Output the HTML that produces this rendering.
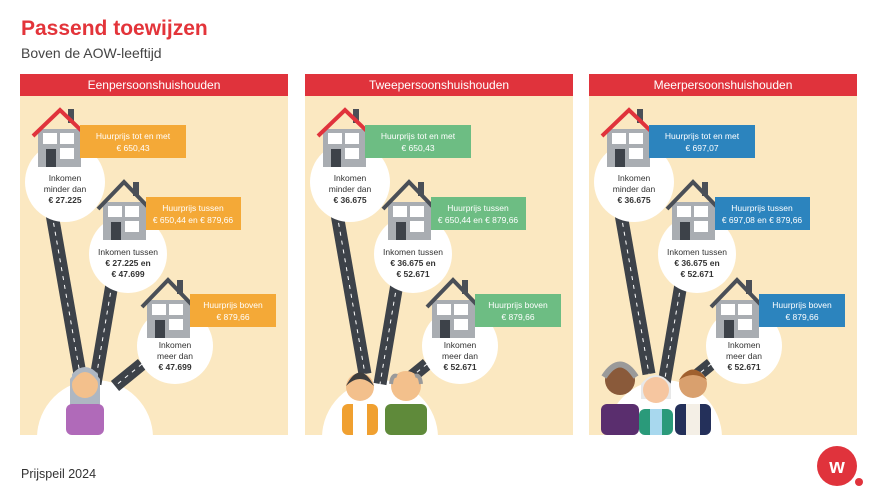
<!DOCTYPE html>
<html><head><meta charset="utf-8"><style>
body{margin:0;background:#fff;width:877px;height:500px;overflow:hidden}
svg{display:block;font-family:"Liberation Sans",sans-serif}
</style></head><body>
<svg width="877" height="500" viewBox="0 0 877 500">
<defs>
<clipPath id="pc"><rect x="0" y="0" width="268" height="361"/></clipPath>
<g id="roads">
 <line x1="32" y1="140" x2="60" y2="300" stroke="#3d4249" stroke-width="13"/>
 <line x1="32" y1="140" x2="60" y2="300" stroke="#fff" stroke-width="1" stroke-dasharray="4 5"/>
 <line x1="92" y1="210" x2="75" y2="310" stroke="#3d4249" stroke-width="13"/>
 <line x1="92" y1="210" x2="75" y2="310" stroke="#fff" stroke-width="1" stroke-dasharray="4 5"/>
 <line x1="122" y1="290" x2="95" y2="312" stroke="#3d4249" stroke-width="13"/>
 <line x1="122" y1="290" x2="95" y2="312" stroke="#fff" stroke-width="1" stroke-dasharray="4 5"/>
</g>
<g id="house">
 <rect x="0" y="0" width="43" height="38" fill="#a9adb2"/>
 <rect x="30" y="-20" width="6" height="14" fill="#4a4f57"/>
 <rect x="5" y="4" width="14" height="11" fill="#fff"/>
 <rect x="22" y="4" width="14" height="11" fill="#fff"/>
 <rect x="22" y="19" width="14" height="11" fill="#fff"/>
 <rect x="8" y="20" width="10" height="18" fill="#3d4249"/>
</g>
<g id="base">
 <rect x="0" y="0" width="268" height="361" fill="#fbe8c1"/>
 <g clip-path="url(#pc)"><circle cx="75" cy="364" r="58" fill="#fff"/></g>
 <use href="#roads"/>
 <circle cx="45" cy="108" r="40" fill="#fff"/>
 <circle cx="108" cy="180" r="39" fill="#fff"/>
 <circle cx="155" cy="272" r="38" fill="#fff"/>
 <use href="#house" x="18" y="55"/>
 <polyline points="13,62 40,36 67,62" fill="none" stroke="#e0333c" stroke-width="4"/>
 <use href="#house" x="83" y="128"/>
 <polyline points="78,135 104,108 130,135" fill="none" stroke="#4a4f57" stroke-width="4"/>
 <use href="#house" x="127" y="226"/>
 <polyline points="122,233 148,206 174,233" fill="none" stroke="#4a4f57" stroke-width="4"/>
 <rect x="0" y="0" width="268" height="22" fill="#e0333c"/>
</g>
</defs>

<text x="21" y="35" font-size="21" fill="#e3343a" font-weight="bold">Passend toewijzen</text>
<text x="21" y="58" font-size="14" fill="#444">Boven de AOW-leeftijd</text>
<text x="21" y="478" font-size="12.5" fill="#333">Prijspeil 2024</text>
<circle cx="837" cy="466" r="20" fill="#e0333c"/>
<circle cx="859" cy="482" r="4" fill="#e0333c"/>
<text x="837" y="473" font-size="20" font-weight="bold" fill="#fff" text-anchor="middle">w</text>

<!-- Panel 1 -->
<g transform="translate(20,74)" font-size="8.5" text-anchor="middle">
 <use href="#base"/>
 <text x="134" y="15" font-size="12" fill="#fff">Eenpersoonshuishouden</text>
 <rect x="60" y="51" width="106" height="33" fill="#f4a937"/>
 <rect x="126" y="123" width="95" height="33" fill="#f4a937"/>
 <rect x="170" y="220" width="86" height="33" fill="#f4a937"/>
 <g fill="#fff"><text x="113" y="65">Huurprijs tot en met</text><text x="113" y="77">€ 650,43</text>
 <text x="173" y="137">Huurprijs tussen</text><text x="173" y="149">€ 650,44 en € 879,66</text>
 <text x="213" y="234">Huurprijs boven</text><text x="213" y="246">€ 879,66</text></g>
 <g fill="#333"><text x="45" y="107">Inkomen</text><text x="45" y="118">minder dan</text><text x="45" y="129" font-weight="bold">€ 27.225</text>
 <text x="108" y="181">Inkomen tussen</text><text x="108" y="192" font-weight="bold">€ 27.225 en</text><text x="108" y="203" font-weight="bold">€ 47.699</text>
 <text x="155" y="274">Inkomen</text><text x="155" y="285">meer dan</text><text x="155" y="296" font-weight="bold">€ 47.699</text></g>
 <path d="M50,343 L50,305 Q65,285 80,305 L80,343 Z" fill="#aeb7c2"/>
 <rect x="46" y="330" width="38" height="31" rx="6" fill="#b06ab9"/>
 <circle cx="65" cy="311" r="13" fill="#f3c08c"/>
 <path d="M52,308 Q65,288 78,308 L78,300 Q65,286 52,300 Z" fill="#aeb7c2"/>
</g>

<!-- Panel 2 -->
<g transform="translate(305,74)" font-size="8.5" text-anchor="middle">
 <use href="#base"/>
 <text x="134" y="15" font-size="12" fill="#fff">Tweepersoonshuishouden</text>
 <rect x="60" y="51" width="106" height="33" fill="#6dbd83"/>
 <rect x="126" y="123" width="95" height="33" fill="#6dbd83"/>
 <rect x="170" y="220" width="86" height="33" fill="#6dbd83"/>
 <g fill="#fff"><text x="113" y="65">Huurprijs tot en met</text><text x="113" y="77">€ 650,43</text>
 <text x="173" y="137">Huurprijs tussen</text><text x="173" y="149">€ 650,44 en € 879,66</text>
 <text x="213" y="234">Huurprijs boven</text><text x="213" y="246">€ 879,66</text></g>
 <g fill="#333"><text x="45" y="107">Inkomen</text><text x="45" y="118">minder dan</text><text x="45" y="129" font-weight="bold">€ 36.675</text>
 <text x="108" y="181">Inkomen tussen</text><text x="108" y="192" font-weight="bold">€ 36.675 en</text><text x="108" y="203" font-weight="bold">€ 52.671</text>
 <text x="155" y="274">Inkomen</text><text x="155" y="285">meer dan</text><text x="155" y="296" font-weight="bold">€ 52.671</text></g>
 <rect x="37" y="330" width="36" height="31" rx="6" fill="#f0a030"/>
 <rect x="48" y="330" width="14" height="31" fill="#fff"/>
 <circle cx="55" cy="313" r="14" fill="#f3c08c"/>
 <path d="M41,312 Q55,285 69,312 Q55,298 41,312 Z" fill="#3d3d3d"/>
 <rect x="80" y="330" width="42" height="31" rx="6" fill="#5f8a3a"/>
 <circle cx="101" cy="312" r="15" fill="#f3c08c"/>
 <path d="M86,310 Q87,300 92,302 M116,310 Q115,300 110,302" stroke="#9a9a9a" stroke-width="4" fill="none"/>
</g>

<!-- Panel 3 -->
<g transform="translate(589,74)" font-size="8.5" text-anchor="middle">
 <use href="#base"/>
 <text x="134" y="15" font-size="12" fill="#fff">Meerpersoonshuishouden</text>
 <rect x="60" y="51" width="106" height="33" fill="#2c84be"/>
 <rect x="126" y="123" width="95" height="33" fill="#2c84be"/>
 <rect x="170" y="220" width="86" height="33" fill="#2c84be"/>
 <g fill="#fff"><text x="113" y="65">Huurprijs tot en met</text><text x="113" y="77">€ 697,07</text>
 <text x="173" y="137">Huurprijs tussen</text><text x="173" y="149">€ 697,08 en € 879,66</text>
 <text x="213" y="234">Huurprijs boven</text><text x="213" y="246">€ 879,66</text></g>
 <g fill="#333"><text x="45" y="107">Inkomen</text><text x="45" y="118">minder dan</text><text x="45" y="129" font-weight="bold">€ 36.675</text>
 <text x="108" y="181">Inkomen tussen</text><text x="108" y="192" font-weight="bold">€ 36.675 en</text><text x="108" y="203" font-weight="bold">€ 52.671</text>
 <text x="155" y="274">Inkomen</text><text x="155" y="285">meer dan</text><text x="155" y="296" font-weight="bold">€ 52.671</text></g>
 <rect x="12" y="330" width="38" height="31" rx="6" fill="#5a2e6e"/>
 <circle cx="31" cy="306" r="15" fill="#8a5a3a"/>
 <path d="M15,303 Q31,278 47,303" stroke="#9a9a9a" stroke-width="6" fill="none"/>
 <rect x="50" y="335" width="34" height="26" rx="6" fill="#2a9a7a"/>
 <rect x="61" y="335" width="12" height="26" fill="#a8d8ee"/>
 <path d="M52,325 L52,310 Q67,292 82,310 L82,325 Z" fill="#e8e8e8"/>
 <circle cx="67" cy="316" r="13" fill="#f6c6a0"/>
 <rect x="86" y="330" width="36" height="31" rx="6" fill="#24305a"/>
 <rect x="97" y="330" width="14" height="31" fill="#f4efe6"/>
 <circle cx="104" cy="310" r="14" fill="#d9a06e"/>
 <path d="M90,306 Q104,285 118,306 Q104,296 90,306 Z" fill="#a0602e"/>
</g>
</svg>
</body></html>
